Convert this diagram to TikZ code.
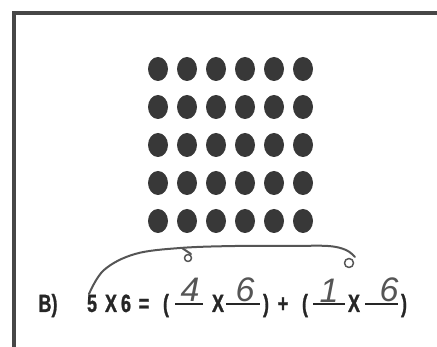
\documentclass[tikz,border=0pt]{standalone}
\usepackage{fontspec}
\setmainfont{Liberation Sans}
\newfontfamily\printfont[FakeStretch=0.72, FakeBold=1]{Liberation Sans Bold}
\usetikzlibrary{positioning,calc,shapes.geometric}
\definecolor{ink}{HTML}{262626}
\definecolor{dotgrey}{HTML}{383838}
\definecolor{pencil}{HTML}{555555}
\definecolor{framegrey}{HTML}{474747}
\tikzset{
  counter/.style={ellipse, fill=dotgrey, draw=none,
    minimum width=20pt, minimum height=24pt, inner sep=0pt},
  printed/.style={font=\printfont\fontsize{25}{25}\selectfont,
    text=ink, anchor=base, inner sep=0pt},
  scrawl/.style={font=\fontsize{34}{34}\selectfont\itshape,
    text=pencil, anchor=base, inner sep=0pt},
  blank/.style={draw=ink, line width=1.8pt},
  pencilline/.style={draw=pencil, line width=2pt, line cap=round, line join=round},
  framebox/.style={draw=framegrey, line width=3.2pt},
}
\begin{document}
\begin{tikzpicture}[x=1pt, y=-1pt]
    \useasboundingbox (0,0) rectangle (437,347);
    % frame of the exercise
    \draw[framebox] (440,13) -| (14,350);
    % array of counters, 5 rows by 6 columns
    \foreach \r in {1,...,5} {
      \foreach \c in {1,...,6} {
        \node[counter] (dot-\r-\c) at ({129+29*\c},{31+38*\r}) {};
      }
    }
    % printed equation
    \node[printed] (label) at (48,312) {B)};
    \node[printed] (five) at (92,312) {5};
    \node[printed] (timesA) at (111,312) {X};
    \node[printed] (six) at (126,312) {6};
    \node[printed] (equals) at (144,312) {=};
    \node[printed] (openA) at (166,312) {(};
    \node[printed] (timesB) at (218,312) {X};
    \node[printed] (closeA) at (266,312) {)};
    \node[printed] (plus) at (283,312) {+};
    \node[printed] (openB) at (305,312) {(};
    \node[printed] (timesC) at (354,312) {X};
    \node[printed] (closeB) at (404,312) {)};
    \draw[blank] (175,304) -- (203,304);
    \draw[blank] (226,304) -- (260,304);
    \draw[blank] (313,304) -- (345,304);
    \draw[blank] (365,304) -- (398,304);
    % handwritten answers
    \node[scrawl] (ansA) at (190,302) {4};
    \node[scrawl] (ansB) at (245,302) {6};
    \node[scrawl] (ansC) at (329,303) {1};
    \node[scrawl] (ansD) at (389,302) {6};
    % handwritten grouping stroke
    \coordinate (loopA) at (188,258);
    \coordinate (loopB) at (349,263);
    \draw[pencilline] plot[smooth, tension=0.6] coordinates
      {(89,294) (104,270) (135,254) (180,248) (235,246) (290,246) (328,246) (346,250) (355,257)};
    \draw[pencilline] (182,248) -- (191,254);
    \draw[pencilline, line width=1.5pt] (loopA) circle [radius=3.5];
    \draw[pencilline, line width=1.5pt] (loopB) circle [radius=4.5];
\end{tikzpicture}
\end{document}
